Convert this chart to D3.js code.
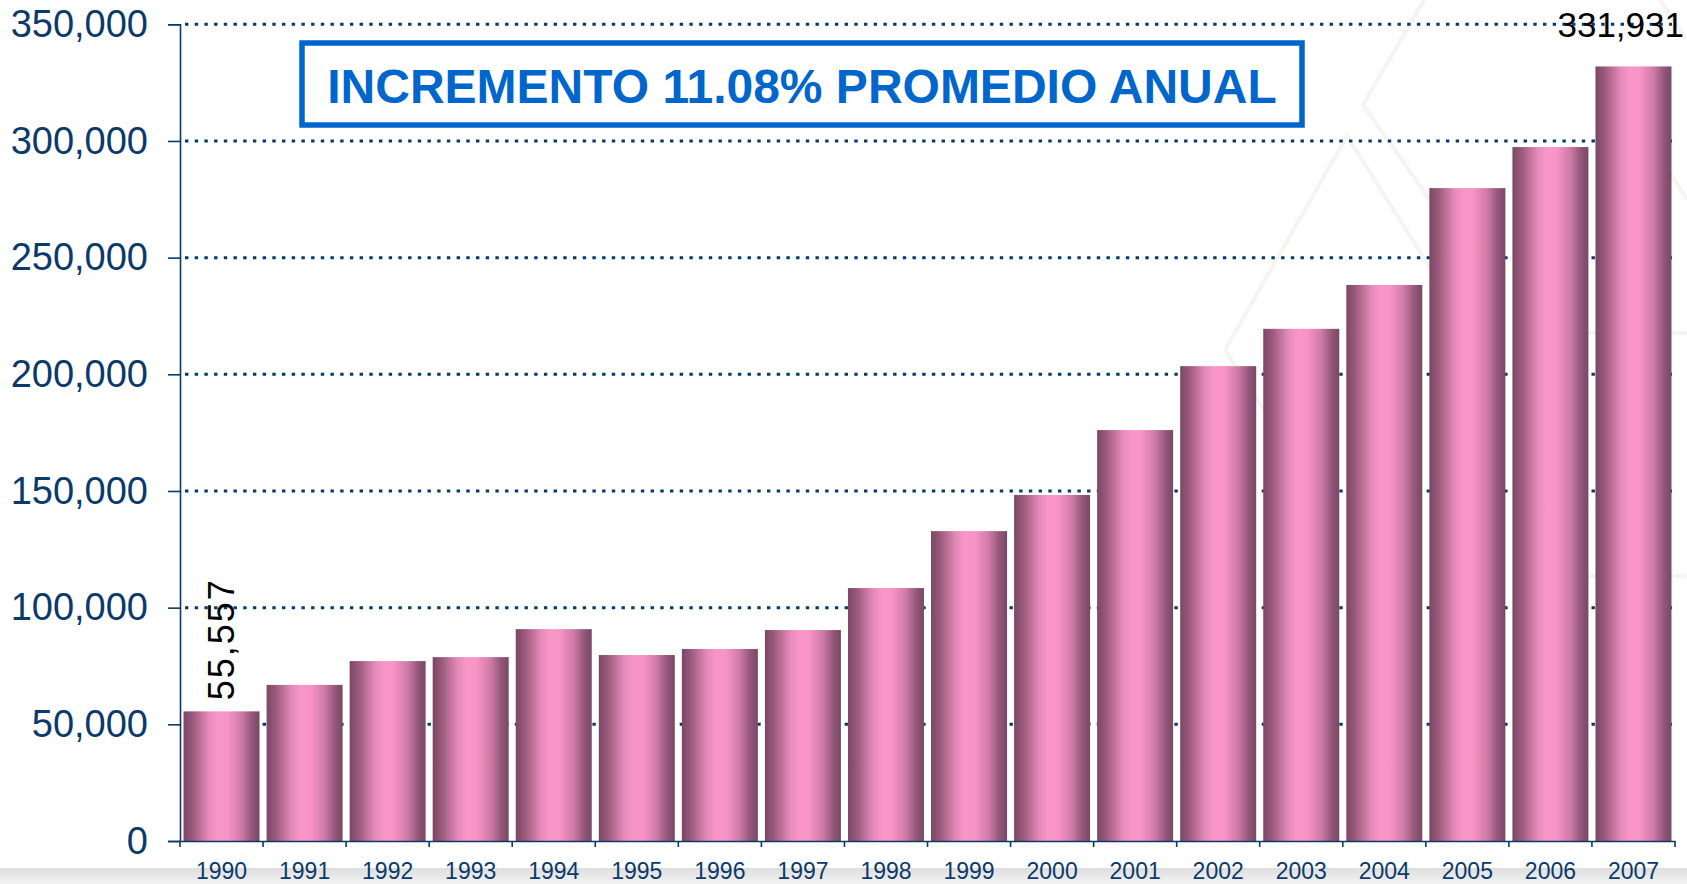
<!DOCTYPE html>
<html>
<head>
<meta charset="utf-8">
<script src="https://cdn.jsdelivr.net/npm/d3@7"></script>
<style>
  body { margin: 0; background: #fff; }
  svg { display: block; font-family: "Liberation Sans", Arial, sans-serif; }
</style>
</head>
<body>
<div id="canvas"></div>
<script>
const years = ["1990", "1991", "1992", "1993", "1994", "1995", "1996", "1997", "1998",
  "1999", "2000", "2001", "2002", "2003", "2004", "2005", "2006", "2007"];
const values = [55557, 66900, 77100, 78800, 90800, 79700, 82300, 90400, 108400,
  132800, 148300, 176100, 203500, 219500, 238300, 279800, 297400, 331931];
const yTicks = [0, 50000, 100000, 150000, 200000, 250000, 300000, 350000];
const labelled = ["1990", "2007"];
const title = "INCREMENTO 11.08% PROMEDIO ANUAL";

const width = 1687;
const height = 884;
const navy = "#0b3a6a";

const svg = d3.select("#canvas").append("svg")
  .attr("width", width)
  .attr("height", height);

const defs = svg.append("defs");
const grad = defs.append("linearGradient").attr("id", "barGrad")
  .attr("x1", "0%").attr("x2", "100%").attr("y1", "0%").attr("y2", "0%");
[[0, "#7a4764"], [12, "#9a5a7c"], [33, "#e48ab9"], [45, "#f996c8"], [58, "#f893c6"],
 [76, "#cf7ba6"], [90, "#93577a"], [100, "#7a4764"]]
  .forEach(s => grad.append("stop").attr("offset", s[0] + "%").attr("stop-color", s[1]));

const band = defs.append("linearGradient").attr("id", "bandGrad")
  .attr("x1", "0").attr("x2", "0").attr("y1", "0").attr("y2", "1");
band.append("stop").attr("offset", "0%").attr("stop-color", "#dedede");
band.append("stop").attr("offset", "100%").attr("stop-color", "#f3f3f3");

// faint slide watermark
const wm = svg.append("g").attr("fill", "none").attr("stroke", "#f7f4ef").attr("stroke-width", 4);
wm.append("path").attr("d", "M1225,350L1347,136L1432,271");
wm.append("path").attr("d", "M1225,350L1265,412");
wm.append("path").attr("d", "M1424,0L1363,105L1456,237");
wm.append("path").attr("d", "M1660,0L1687,40");
wm.append("path").attr("d", "M1650,140L1687,200");
wm.append("path").attr("d", "M1520,333H1687M1520,576H1687");

// grey strip at the bottom of the slide
svg.append("rect")
  .attr("x", 0).attr("y", 868).attr("width", width).attr("height", 16)
  .attr("fill", "url(#bandGrad)");

const x = d3.scaleBand()
  .domain(years)
  .range([180, 1675])
  .paddingInner(0.085)
  .paddingOuter(0.0425);

const y = d3.scaleLinear().domain([0, 350000]).range([841, 24.3]);

// dotted grid
svg.append("g")
  .selectAll("line")
  .data(yTicks.filter(d => d > 0))
  .enter()
  .append("line")
  .attr("x1", 185)
  .attr("x2", 1672)
  .attr("y1", d => y(d))
  .attr("y2", d => y(d))
  .attr("stroke", "#053a6e")
  .attr("stroke-width", 3)
  .attr("stroke-dasharray", "3.4 6.3");

// bars
svg.append("g")
  .selectAll("rect")
  .data(years)
  .enter()
  .append("rect")
  .attr("x", d => x(d))
  .attr("y", (d, i) => y(values[i]))
  .attr("width", x.bandwidth())
  .attr("height", (d, i) => y(0) - y(values[i]))
  .attr("fill", "url(#barGrad)");

// y axis
const yAxis = svg.append("g")
  .attr("transform", "translate(180,0)")
  .call(d3.axisLeft(y).tickValues(yTicks).tickFormat(d3.format(",")).tickSize(12).tickPadding(20));
yAxis.select(".domain").attr("stroke", navy).attr("stroke-width", 1.6);
yAxis.selectAll(".tick line").attr("stroke", navy).attr("stroke-width", 1.6);
yAxis.selectAll(".tick text")
  .attr("fill", navy)
  .style("font-size", "38px")
  .style("font-family", "'Liberation Sans', Arial, sans-serif");

// x axis
const xAxis = svg.append("g")
  .attr("transform", "translate(0,841)")
  .call(d3.axisBottom(x).tickSize(0).tickPadding(22).tickSizeOuter(0));
xAxis.select(".domain").attr("stroke", navy).attr("stroke-width", 1.6);
xAxis.selectAll(".tick text")
  .attr("fill", navy)
  .style("font-size", "23px")
  .style("font-family", "'Liberation Sans', Arial, sans-serif");

// ticks between the categories
const step = x.step();
const edges = years.map(d => x(d) - step * x.paddingInner() / 2).concat([x.range()[1]]);
xAxis.selectAll(".edge")
  .data(edges)
  .enter()
  .append("line")
  .attr("x1", d => d)
  .attr("x2", d => d)
  .attr("y1", 0)
  .attr("y2", 6)
  .attr("stroke", navy)
  .attr("stroke-width", 1.6);

// value labels
const first = labelled[0];
const i0 = years.indexOf(first);
svg.append("text")
  .attr("transform", `translate(${x(first) + x.bandwidth() / 2 + 12},${y(values[i0]) - 11}) rotate(-90)`)
  .attr("font-size", 36)
  .attr("letter-spacing", 2)
  .attr("fill", "#000")
  .text(d3.format(",")(values[i0]));

const last = labelled[1];
const i1 = years.indexOf(last);
svg.append("text")
  .attr("x", 1684)
  .attr("y", 37)
  .attr("text-anchor", "end")
  .attr("font-size", 35)
  .attr("fill", "#000")
  .text(d3.format(",")(values[i1]));

// headline box
svg.append("rect")
  .attr("x", 302).attr("y", 43)
  .attr("width", 1000).attr("height", 82)
  .attr("fill", "#fff")
  .attr("stroke", "#0066cc")
  .attr("stroke-width", 5.5);

svg.append("text")
  .attr("x", 802)
  .attr("y", 103)
  .attr("text-anchor", "middle")
  .attr("font-size", 48)
  .attr("font-weight", "bold")
  .attr("fill", "#0066cc")
  .text(title);
</script>
</body>
</html>
